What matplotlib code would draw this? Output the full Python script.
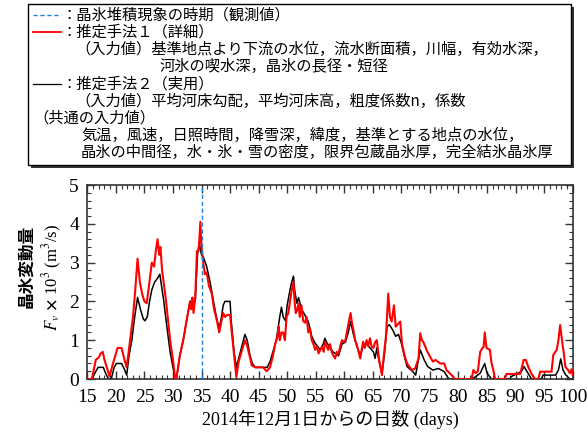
import matplotlib
matplotlib.use("Agg")
import matplotlib.pyplot as plt
from matplotlib.patches import Rectangle
from matplotlib.lines import Line2D
from matplotlib.ticker import MultipleLocator

JP = ["Noto Sans CJK JP", "DejaVu Sans"]
SERIF_JP = ["Liberation Serif", "Noto Sans CJK JP"]

# observed frazil accumulation period (day)
obs_day = 35

# method 1 (detailed) - red
days_m1 = [15.0, 15.8, 16.5, 17.0, 17.3, 17.7, 18.0, 18.9, 19.5, 20.3, 21.0, 21.5, 21.9,
           22.4, 23.0, 23.4, 23.8, 24.2, 24.6, 25.0, 25.4, 25.8, 26.3, 26.7, 27.0, 27.3,
           27.6, 27.8, 28.1, 28.8, 29.5, 30.0, 30.4, 30.6, 31.2, 31.8, 32.5, 33.0, 33.2,
           33.4, 33.6, 33.9, 34.2, 34.5, 34.8, 35.0, 35.3, 35.6, 35.9, 36.3, 36.8, 37.2,
           37.7, 38.1, 38.5, 38.8, 39.1, 39.5, 40.0, 40.3, 40.9, 41.1, 41.5, 42.0, 42.6,
           43.0, 43.5, 43.8, 44.4, 45.8, 46.4, 47.0, 47.5, 47.9, 48.3, 48.5, 48.7, 49.0,
           49.3, 49.6, 49.9, 50.2, 50.5, 50.8, 51.1, 51.3, 51.5, 51.7, 52.0, 52.2, 52.5,
           52.8, 53.1, 53.4, 53.7, 54.0, 54.3, 54.6, 54.9, 55.2, 55.5, 55.8, 56.1, 56.4,
           56.6, 56.9, 57.2, 57.5, 57.8, 58.1, 58.4, 58.7, 59.0, 59.3, 59.6, 59.9, 60.2,
           60.7, 61.1, 61.4, 61.6, 61.9, 62.2, 62.5, 62.8, 63.1, 63.3, 63.6, 63.9, 64.2,
           64.5, 64.8, 65.1, 65.4, 65.7, 66.1, 66.6, 66.9, 67.3, 67.7, 68.0, 68.3, 68.7,
           69.0, 69.3, 69.8, 70.1, 70.6, 71.0, 71.2, 71.8, 72.4, 73.0, 73.3, 73.6, 73.8,
           74.2, 74.4, 75.0, 75.5, 76.0, 76.8, 77.5, 77.9, 78.8, 79.4, 82.3, 82.6, 83.0,
           83.4, 83.8, 84.2, 84.4, 84.6, 84.9, 85.5, 85.8, 86.1, 86.4, 88.1, 88.4, 90.8,
           91.1, 91.4, 91.8, 92.2, 92.8, 93.4, 94.0, 94.3, 96.3, 96.6, 97.2, 97.5, 97.8,
           98.2, 98.5, 98.7, 99.2, 99.5, 99.8, 100.0]
fv_m1 = [0, 0, 0.5, 0.55, 0.65, 0.7, 0.5, 0.07, 0.4, 0.8, 0.8, 0.5, 0.3,
         0.9, 1.6, 2.3, 3.1, 2.5, 2.2, 2.0, 1.95, 2.4, 3.0, 2.9, 3.3, 3.6,
         3.2, 3.4, 2.8, 2.0, 1.0, 0.5, 0.0, 0.0, 0.6, 1.0, 1.6, 2.0, 1.8,
         2.1, 1.7, 2.1, 3.3, 3.3, 4.05, 3.4, 3.0, 2.7, 2.75, 2.4, 2.2, 1.8,
         1.5, 1.2, 1.5, 1.7, 1.6, 1.65, 1.65, 1.2, 0.35, 0.05, 0.45, 0.7, 1.0,
         0.85, 0.55, 0.35, 0.3, 0.3, 0.2, 0.3, 0.6, 0.9, 1.1, 1.35, 1.0, 1.2,
         1.2, 1.0, 1.6, 1.7, 2.0, 2.3, 2.5, 2.0, 1.7, 1.75, 1.95, 1.6, 1.9,
         1.5, 1.45, 1.6, 1.2, 1.3, 1.0, 0.9, 0.75, 0.85, 0.66, 0.75, 0.83, 0.7,
         0.96, 0.85, 0.75, 0.9, 0.7, 0.6, 0.53, 0.7, 0.65, 0.85, 1.0, 0.95, 1.0,
         1.4, 1.7, 1.4, 1.26, 1.0, 0.88, 0.7, 0.53, 0.8, 0.96, 0.8, 1.0, 0.85,
         1.05, 0.83, 0.8, 0.95, 1.0, 0.5, 0.1, 0.58, 1.1, 2.2, 1.6, 1.48, 1.9,
         1.35, 1.4, 1.48, 0.92, 0.58, 0.4, 0.36, 0.23, 0.27, 0.53, 1.18, 1.0, 0.96,
         0.83, 0.75, 0.58, 0.45, 0.49, 0.4, 0.4, 0.23, 0.1, 0.0, 0.0, 0.23, 0.15,
         0.2, 0.7, 0.8, 0.83, 1.2, 0.8, 0.75, 0.4, 0.23, 0.0, 0.0, 0.13, 0.13,
         0.3, 0.49, 0.49, 0.32, 0.13, 0.0, 0.0, 0.19, 0.19, 0.62, 0.75, 1.0, 1.39,
         0.92, 0.6, 0.32, 0.23, 0.15, 0.25, 0.1]

# method 2 (practical) - black
days_m2 = [15.0, 15.8, 16.5, 16.9, 17.8, 18.2, 18.7, 19.2, 19.7, 20.1, 21.0, 21.5, 21.9,
           22.3, 22.8, 23.3, 23.8, 24.3, 24.8, 25.1, 25.5, 25.9, 26.3, 26.8, 27.3, 27.7,
           28.0, 28.4, 28.8, 29.5, 30.0, 30.4, 30.6, 31.2, 31.8, 32.5, 33.0, 33.5, 33.9,
           34.3, 34.6, 35.0, 35.3, 35.9, 36.5, 37.1, 37.6, 38.1, 38.5, 38.8, 39.1, 40.0,
           40.2, 40.7, 41.1, 41.8, 42.6, 43.0, 43.5, 43.9, 44.4, 46.1, 46.5, 47.0, 47.5,
           48.1, 48.4, 48.7, 49.0, 49.3, 49.7, 50.0, 50.5, 50.8, 51.1, 51.3, 51.7, 52.0,
           52.5, 53.1, 53.7, 54.0, 54.3, 54.9, 55.3, 55.8, 56.3, 56.6, 57.0, 57.5, 58.0,
           58.4, 59.0, 59.6, 60.2, 60.7, 61.1, 61.6, 62.2, 62.8, 63.3, 63.9, 64.5, 65.1,
           65.4, 65.7, 66.1, 66.6, 67.0, 67.5, 67.9, 68.5, 69.0, 69.5, 70.0, 70.5, 71.0,
           72.0, 72.5, 73.3, 74.0, 74.6, 75.5, 76.5, 77.5, 78.3, 82.3, 83.0, 83.8, 84.6,
           85.0, 85.8, 89.0, 89.2, 91.0, 91.5, 92.0, 92.8, 94.5, 94.8, 97.0, 97.5, 97.9,
           98.3, 98.8, 99.5, 100.0]
fv_m2 = [0, 0, 0.2, 0.3, 0.3, 0.15, 0.0, 0.0, 0.3, 0.4, 0.4, 0.25, 0.1,
         0.6, 1.0, 1.6, 2.1, 1.8, 1.55, 1.5, 1.6, 2.0, 2.3, 2.5, 2.6, 2.7,
         2.4, 2.0, 1.5, 0.7, 0.3, 0.0, 0.0, 0.6, 1.0, 1.6, 2.0, 2.0, 2.0,
         3.2, 3.5, 3.2, 3.15, 2.9, 2.5, 2.0, 1.6, 1.3, 1.6, 1.9, 2.0, 2.0,
         1.5, 0.7, 0.3, 0.7, 1.15, 1.0, 0.6, 0.4, 0.3, 0.3, 0.3, 0.45, 0.7,
         1.0, 1.3, 1.6, 1.85, 1.6, 1.5, 1.9, 2.3, 2.5, 2.65, 2.3, 1.95, 2.1,
         1.8, 1.65, 1.48, 1.3, 1.1, 0.92, 0.85, 0.75, 0.9, 1.05, 0.92, 0.8, 0.7,
         0.66, 0.6, 0.9, 0.95, 1.2, 1.48, 1.15, 0.85, 0.6, 0.85, 0.9, 0.8, 0.7,
         0.53, 0.8, 0.45, 0.15, 0.6, 1.35, 1.4, 1.26, 1.1, 1.15, 0.92, 0.6, 0.32,
         0.19, 0.1, 0.75, 0.49, 0.32, 0.23, 0.27, 0.19, 0.0, 0.0, 0.06, 0.15, 0.4,
         0.15, 0.0, 0.0, 0.06, 0.19, 0.32, 0.19, 0.0, 0.0, 0.1, 0.1, 0.23, 0.52,
         0.23, 0.1, 0.0, 0.0]

xticks = list(range(15, 101, 5))
yticks = [0, 1, 2, 3, 4, 5]

legend_lines = [
    ("dash", "：晶氷堆積現象の時期（観測値）"),
    ("red", "：推定手法１（詳細）"),
    (None, "（入力値）基準地点より下流の水位，流水断面積，川幅，有効水深，"),
    (None, "河氷の喫水深，晶氷の長径・短径"),
    ("black", "：推定手法２（実用）"),
    (None, "（入力値）平均河床勾配，平均河床高，粗度係数n，係数"),
    (None, "（共通の入力値）"),
    (None, "気温，風速，日照時間，降雪深，緯度，基準とする地点の水位，"),
    (None, "晶氷の中間径，水・氷・雪の密度，限界包蔵晶氷厚，完全結氷晶氷厚"),
]
legend_x = [62, 62, 75, 160, 62, 75, 33, 81, 81]

fig = plt.figure(figsize=(5.87, 4.34), dpi=100)
W, H = 587, 434

# legend box with drop shadow
bx0, by0, bx1, by1 = 28, 4, 571, 165
fig.patches.append(Rectangle(((bx0 + 3) / W, 1 - (by1 + 3) / H), (bx1 - bx0) / W, (by1 - by0) / H,
                             transform=fig.transFigure, facecolor="#333333", edgecolor="none", zorder=0))
fig.patches.append(Rectangle((bx0 / W, 1 - by1 / H), (bx1 - bx0) / W, (by1 - by0) / H,
                             transform=fig.transFigure, facecolor="white", edgecolor="black",
                             linewidth=1.0, zorder=1))

line_y0, line_dy = 15, 17.2
for i, ((kind, txt), tx) in enumerate(zip(legend_lines, legend_x)):
    yy = 1 - (line_y0 + i * line_dy) / H
    if kind is not None:
        style = {"dash": dict(color="#1a7fe0", linestyle=(0, (3, 2)), linewidth=1.0),
                 "red": dict(color="red", linewidth=1.3),
                 "black": dict(color="black", linewidth=0.9)}[kind]
        fig.lines.append(Line2D([33 / W, 61 / W], [yy, yy], transform=fig.transFigure, zorder=2, **style))
    fig.text(tx / W, yy, txt, family=JP, fontsize=11, ha="left", va="center", zorder=3)

ax = fig.add_axes([87.3 / W, 1 - 379 / H, 485.4 / W, 194 / H])
ax.plot(days_m2, fv_m2, color="black", linewidth=1.1, zorder=2)
ax.plot(days_m1, fv_m1, color="red", linewidth=1.5, zorder=3)
ax.axvline(obs_day, color="#1a7fe0", linestyle=(0, (3, 2)), linewidth=1.0, zorder=4)

ax.set_xlim(15, 100)
ax.set_ylim(0, 5)
ax.set_xticks(xticks)
ax.set_yticks(yticks)
ax.xaxis.set_minor_locator(MultipleLocator(1))
ax.yaxis.set_minor_locator(MultipleLocator(0.2))
ax.tick_params(which="both", direction="in", top=True, right=True, color="#333333")
ax.tick_params(which="major", length=6, width=1.0, pad=6)
ax.tick_params(axis="x", which="major", pad=7)
ax.tick_params(which="minor", length=3, width=0.8)
for lab in ax.get_xticklabels() + ax.get_yticklabels():
    lab.set_family("Liberation Serif")
    lab.set_fontsize(14)
for sp in ax.spines.values():
    sp.set_linewidth(1.2)
    sp.set_color("#333333")

ax.set_xlabel("2014年12月1日からの日数 (days)", family=SERIF_JP, fontsize=13, labelpad=3)

fig.text(26 / W, 1 - 266 / H, "晶氷変動量", family=JP, fontsize=12, fontweight="bold",
         rotation=90, ha="center", va="center")
fig.text(52 / W, 1 - 277 / H, r"$F_v$ $\mathbf{\times}$ 10$^3$ (m$^3$/s)", family="Liberation Serif",
         fontsize=12, rotation=90, ha="center", va="center", math_fontfamily="stix")

fig.savefig("out.png", dpi=100)
